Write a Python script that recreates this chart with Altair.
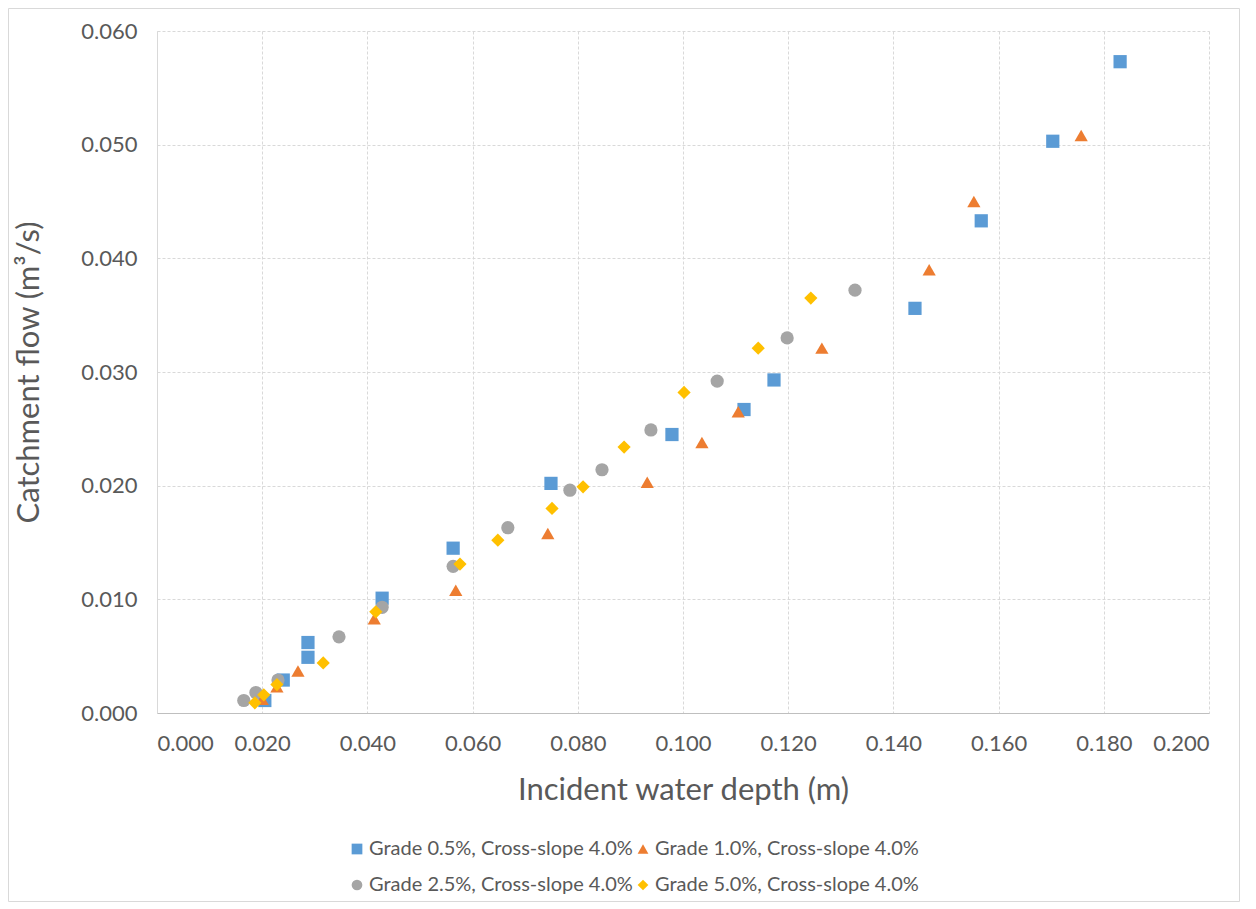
import altair as alt
import pandas as pd

series_names = [
    "Grade 0.5%, Cross-slope 4.0%",
    "Grade 1.0%, Cross-slope 4.0%",
    "Grade 2.5%, Cross-slope 4.0%",
    "Grade 5.0%, Cross-slope 4.0%",
]
colors = ["#5B9BD5", "#ED7D31", "#A5A5A5", "#FFC000"]
shapes = ["square", "triangle-up", "circle", "diamond"]

g05_x = [0.0205, 0.0240, 0.0287, 0.0287, 0.0428, 0.0563, 0.0749, 0.0979, 0.1116, 0.1173, 0.1441, 0.1567, 0.1703, 0.1831]
g05_y = [0.0011, 0.0029, 0.0049, 0.0062, 0.0101, 0.0145, 0.0202, 0.0245, 0.0267, 0.0293, 0.0356, 0.0433, 0.0503, 0.0573]

g10_x = [0.0200, 0.0228, 0.0268, 0.0413, 0.0568, 0.0743, 0.0932, 0.1036, 0.1105, 0.1264, 0.1468, 0.1553, 0.1757]
g10_y = [0.0012, 0.0023, 0.0037, 0.0083, 0.0108, 0.0158, 0.0203, 0.0238, 0.0265, 0.0321, 0.0390, 0.0450, 0.0508]

g25_x = [0.0165, 0.0188, 0.0230, 0.0346, 0.0428, 0.0563, 0.0667, 0.0785, 0.0846, 0.0939, 0.1065, 0.1198, 0.1327]
g25_y = [0.0011, 0.0018, 0.0029, 0.0067, 0.0093, 0.0129, 0.0163, 0.0196, 0.0214, 0.0249, 0.0292, 0.0330, 0.0372]

g50_x = [0.0186, 0.0203, 0.0228, 0.0316, 0.0416, 0.0576, 0.0648, 0.0751, 0.0810, 0.0888, 0.1002, 0.1143, 0.1243]
g50_y = [0.0009, 0.0016, 0.0025, 0.0044, 0.0089, 0.0131, 0.0152, 0.0180, 0.0199, 0.0234, 0.0282, 0.0321, 0.0365]

x_ticks = [0.0, 0.02, 0.04, 0.06, 0.08, 0.10, 0.12, 0.14, 0.16, 0.18, 0.20]
y_ticks = [0.0, 0.01, 0.02, 0.03, 0.04, 0.05, 0.06]

rows = []
for name, xs, ys in zip(series_names, [g05_x, g10_x, g25_x, g50_x], [g05_y, g10_y, g25_y, g50_y]):
    for xv, yv in zip(xs, ys):
        rows.append({"series": name, "depth": xv, "flow": yv})
df = pd.DataFrame(rows)

TEXT = "#595959"
FONT = "Lato"

legend_order = [series_names[0], series_names[2], series_names[1], series_names[3]]

points = alt.Chart(df).mark_point(filled=True, size=175, opacity=1).encode(
    x=alt.X("depth:Q",
            scale=alt.Scale(domain=[0, 0.2], nice=False, zero=True),
            axis=alt.Axis(values=x_ticks, format=".3f", title="Incident water depth (m)",
                          labelPadding=20, titlePadding=21)),
    y=alt.Y("flow:Q",
            scale=alt.Scale(domain=[0, 0.06], nice=False),
            axis=alt.Axis(values=y_ticks, format=".3f", title="Catchment flow (m³/s)",
                          labelPadding=20, titlePadding=35)),
    color=alt.Color("series:N", scale=alt.Scale(domain=series_names, range=colors),
                    legend=alt.Legend(title=None, orient="none", legendX=190, legendY=808,
                                      columns=2, columnPadding=0, rowPadding=16,
                                      values=legend_order, labelLimit=500,
                                      labelFontSize=20, labelColor=TEXT, labelFont=FONT,
                                      symbolSize=115, labelOffset=2, symbolStrokeWidth=0)),
    shape=alt.Shape("series:N", scale=alt.Scale(domain=series_names, range=shapes)),
)

border = alt.Chart(pd.DataFrame({"k": [0]})).mark_rect(
    fillOpacity=0, stroke="#D9D9D9", strokeWidth=1
).encode(
    x=alt.value(-148.5), x2=alt.value(1082.5),
    y=alt.value(-22.5), y2=alt.value(870.5),
)

chart = alt.layer(border, points).properties(
    width=1052, height=682,
    autosize="none",
    background="white",
    padding={"left": 149, "top": 23, "right": 39, "bottom": 190},
).configure(
    font=FONT,
).configure_axis(
    labelFont=FONT, titleFont=FONT,
    labelFontSize=22, titleFontSize=31, titleFontWeight="normal",
    labelColor=TEXT, titleColor=TEXT,
    grid=True, gridColor="#D9D9D9", gridDash=[3, 2], gridWidth=1,
    ticks=False, domainColor="#BFBFBF", domainWidth=1,
).configure_axisY(
    domainColor="#D9D9D9",
).configure_view(
    stroke=None,
)

chart.save("out.html", embed_options={"renderer": "svg", "actions": False})
